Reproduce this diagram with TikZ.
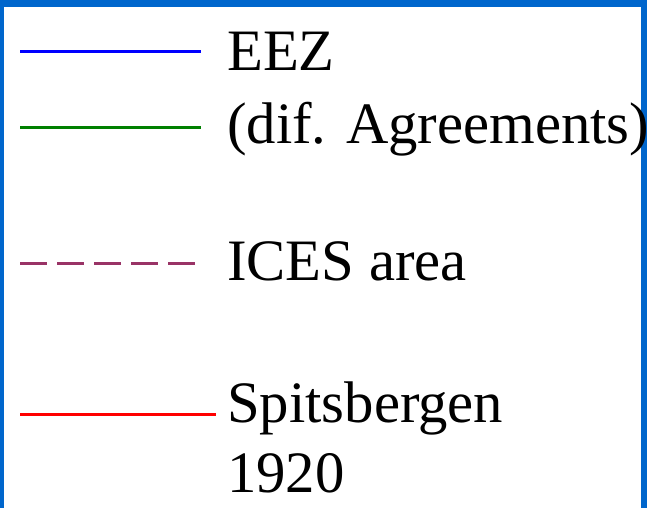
\documentclass[tikz,border=0pt]{standalone}
\usepackage{fontspec}
\setmainfont{Liberation Serif}

\definecolor{framecol}{HTML}{0066CC}
\definecolor{icescol}{HTML}{993366}
\definecolor{agrcol}{HTML}{008000}

\tikzset{
    legtext/.style={anchor=base west, inner sep=0pt, align=left,
        font=\fontsize{58.7}{70}\selectfont},
    eezline/.style={blue, line width=3pt},
    agrline/.style={agrcol, line width=3pt},
    icesline/.style={icescol, line width=3pt, dash pattern=on 27pt off 10pt},
    spitsline/.style={red, line width=3pt}
}

\begin{document}
\begin{tikzpicture}[x=1pt, y=-1pt]

    % Size of the panel
    \def\panelw{647}
    \def\panelh{508}
    \def\xstart{20}
    \def\xtext{227}
    \useasboundingbox (0, 0) rectangle (\panelw, \panelh);

    % Frame
    \fill[framecol] (0, 0) rectangle (\panelw, \panelh);
    \fill[white] (3.5, 7) rectangle (641, \panelh+2);

    % Line samples
    \foreach \name/\y/\xend/\sty in {eez/52/201/eezline, agr/127.5/201/agrline,
                                     ices/263/195/icesline, spits/414/216/spitsline}
    {
        \coordinate (\name a) at (\xstart, \y);
        \coordinate (\name b) at (\xend, \y);
        \draw[\sty] (\name a) -- (\name b);
    }

    % Labels (base anchor sits on the last line)
    \node[legtext] (eez) at (\xtext, 143) {EEZ\\[3pt](dif. Agreements)};
    \node[legtext] (ices) at (\xtext, 280) {ICES area};
    \node[legtext] (spits) at (\xtext, 492) {Spitsbergen\\1920};

\end{tikzpicture}
\end{document}
